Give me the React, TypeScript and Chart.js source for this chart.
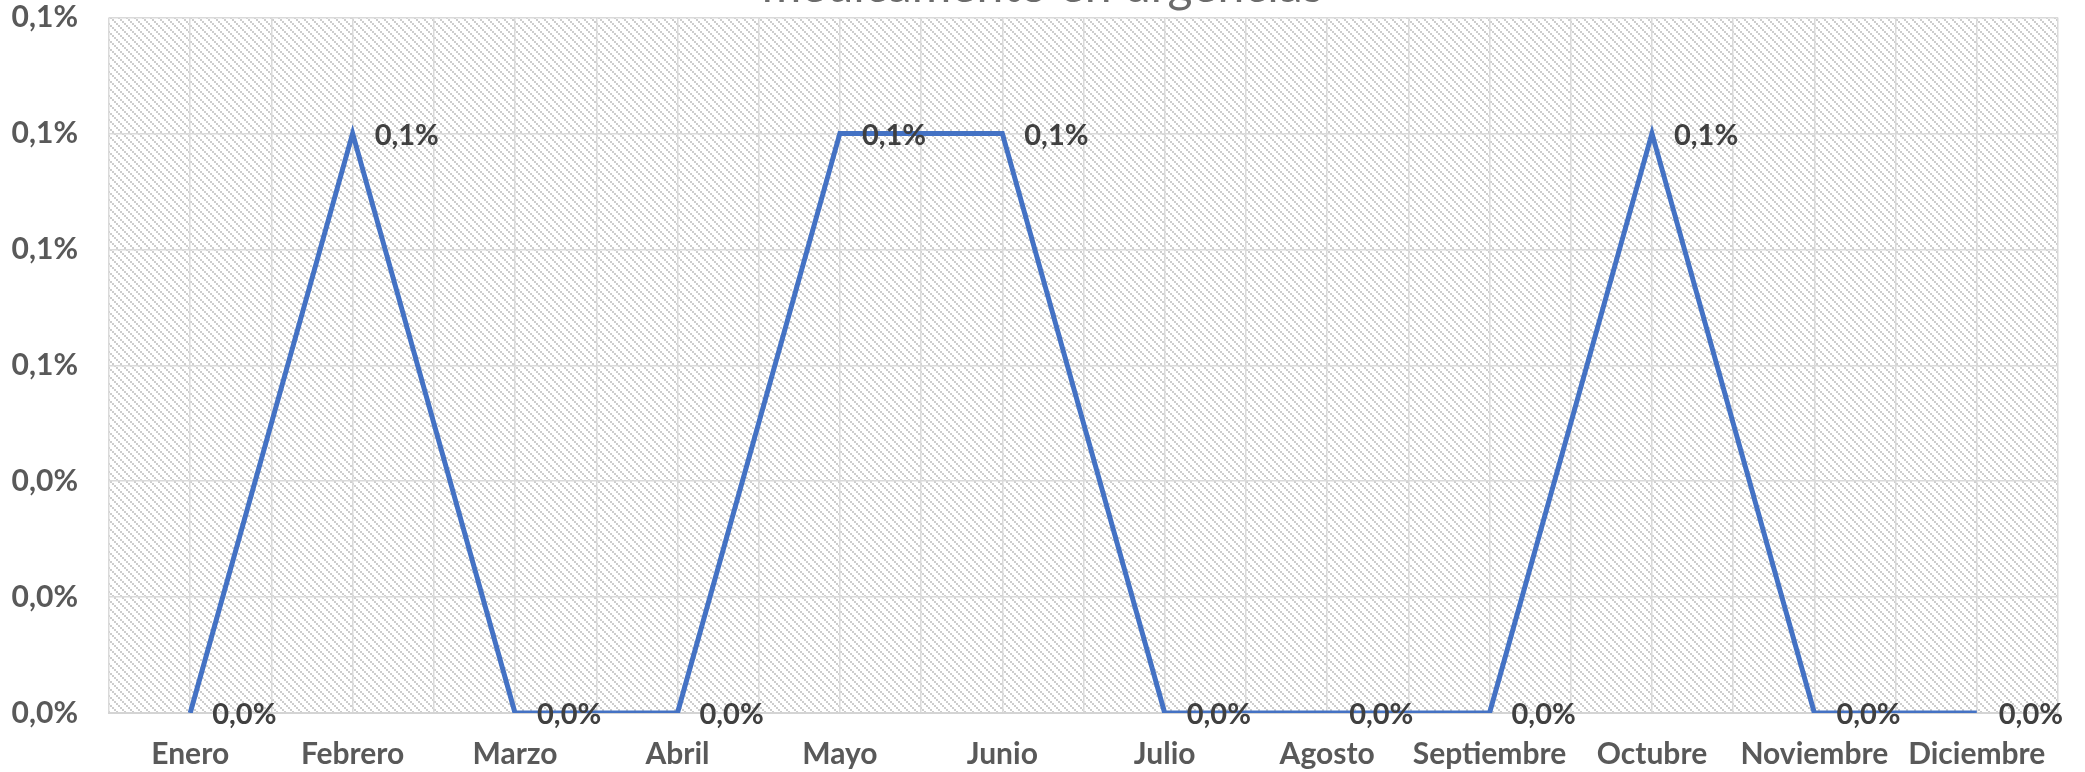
import { useEffect, useRef } from 'react';
import { Chart, registerables } from 'chart.js';

Chart.register(...registerables);

const TITLE = 'medicamento en urgencias';
const categories = ['Enero', 'Febrero', 'Marzo', 'Abril', 'Mayo', 'Junio', 'Julio', 'Agosto', 'Septiembre', 'Octubre', 'Noviembre', 'Diciembre'];
const values = [0, 0.001, 0, 0, 0.001, 0.001, 0, 0, 0, 0.001, 0, 0];
const yMin = 0;
const yMax = 0.0012;
const yStep = 0.0002;

const fmtPct = (v: number) => (v * 100).toFixed(1).replace('.', ',') + '%';

const W = 2085;
const H = 772;
const SHIFT = 37;
const FONT = 'Lato, "Open Sans", sans-serif';

const hatchPlugin = {
  id: 'hatch',
  beforeDraw(chart: any) {
    const { ctx, chartArea } = chart;
    if (!chartArea) return;
    const n = 8;
    const tile = document.createElement('canvas');
    tile.width = n;
    tile.height = n;
    const t = tile.getContext('2d')!;
    t.fillStyle = '#ffffff';
    t.fillRect(0, 0, n, n);
    t.fillStyle = '#cdcdcd';
    for (let k = 0; k < n; k += 2) t.fillRect(k, k, 2, 2);
    const pat = ctx.createPattern(tile, 'repeat');
    ctx.save();
    ctx.fillStyle = pat;
    ctx.fillRect(chartArea.left, chartArea.top, chartArea.right - chartArea.left, chartArea.bottom - chartArea.top);
    ctx.restore();
  },
};

const labelPlugin = {
  id: 'pointLabels',
  afterDatasetsDraw(chart: any) {
    const { ctx } = chart;
    const meta = chart.getDatasetMeta(0);
    const data = chart.data.datasets[0].data as any[];
    ctx.save();
    ctx.font = `bold 29px ${FONT}`;
    ctx.fillStyle = '#404040';
    ctx.textAlign = 'left';
    ctx.textBaseline = 'middle';
    meta.data.forEach((pt: any, i: number) => {
      ctx.fillText(fmtPct(data[i].y), pt.x + 22, pt.y + 2);
    });
    ctx.restore();
  },
};

export default function App() {
  const ref = useRef<HTMLCanvasElement | null>(null);

  useEffect(() => {
    document.body.style.margin = '0';
    const canvas = ref.current!;
    const chart = new Chart(canvas, {
      type: 'line',
      data: {
        datasets: [
          {
            label: TITLE,
            data: values.map((v, i) => ({ x: i, y: v })),
            borderColor: '#4472C4',
            backgroundColor: '#4472C4',
            borderWidth: 5,
            pointRadius: 0,
            tension: 0,
            fill: false,
          },
        ],
      },
      options: {
        animation: false,
        responsive: false,
        devicePixelRatio: 1,
        layout: { padding: 0 },
        plugins: {
          legend: { display: false },
          tooltip: { enabled: false },
          title: {
            display: true,
            text: TITLE,
            color: '#6b6b6b',
            font: { family: FONT, size: 48, weight: 'normal', lineHeight: 1.0 },
            padding: { top: 0, bottom: 6.5 },
          },
        },
        scales: {
          x: {
            type: 'linear',
            min: -0.5,
            max: categories.length - 0.5,
            afterBuildTicks: (s: any) => {
              const t = [];
              for (let k = 0; k <= categories.length * 2; k++) t.push({ value: -0.5 + k * 0.5 });
              s.ticks = t;
            },
            afterFit: (s: any) => {
              s.height = 59;
            },
            grid: { color: '#dadada', lineWidth: 1.5, drawTicks: false },
            border: { display: true, color: '#d4d4d4', width: 2 },
            ticks: {
              autoSkip: false,
              maxRotation: 0,
              minRotation: 0,
              padding: 23,
              color: '#595959',
              font: { family: FONT, size: 30, weight: 'bold' },
              callback: (v: any) => {
                const n = Number(v);
                return Number.isInteger(n) ? categories[n] : '';
              },
            },
          },
          y: {
            type: 'linear',
            min: yMin,
            max: yMax,
            afterFit: (s: any) => {
              s.width = 109;
            },
            grid: { color: '#dadada', lineWidth: 1.5, drawTicks: false },
            border: { display: false },
            ticks: {
              stepSize: yStep,
              padding: 31,
              color: '#595959',
              font: { family: FONT, size: 30, weight: 'bold' },
              callback: (v: any) => fmtPct(Number(v)),
            },
          },
          yRight: {
            type: 'linear',
            position: 'right',
            display: true,
            min: yMin,
            max: yMax,
            afterFit: (s: any) => {
              s.width = 27;
            },
            grid: { display: false, drawTicks: false },
            border: { display: false },
            ticks: { display: false },
          },
        },
      },
      plugins: [hatchPlugin, labelPlugin],
    });
    return () => chart.destroy();
  }, []);

  return (
    <div style={{ position: 'fixed', left: 0, top: 0, width: W, height: H, overflow: 'hidden', background: '#ffffff' }}>
      <canvas
        ref={ref}
        width={W}
        height={H + SHIFT}
        style={{ display: 'block', position: 'absolute', left: 0, top: -SHIFT, width: W, height: H + SHIFT }}
      />
    </div>
  );
}
